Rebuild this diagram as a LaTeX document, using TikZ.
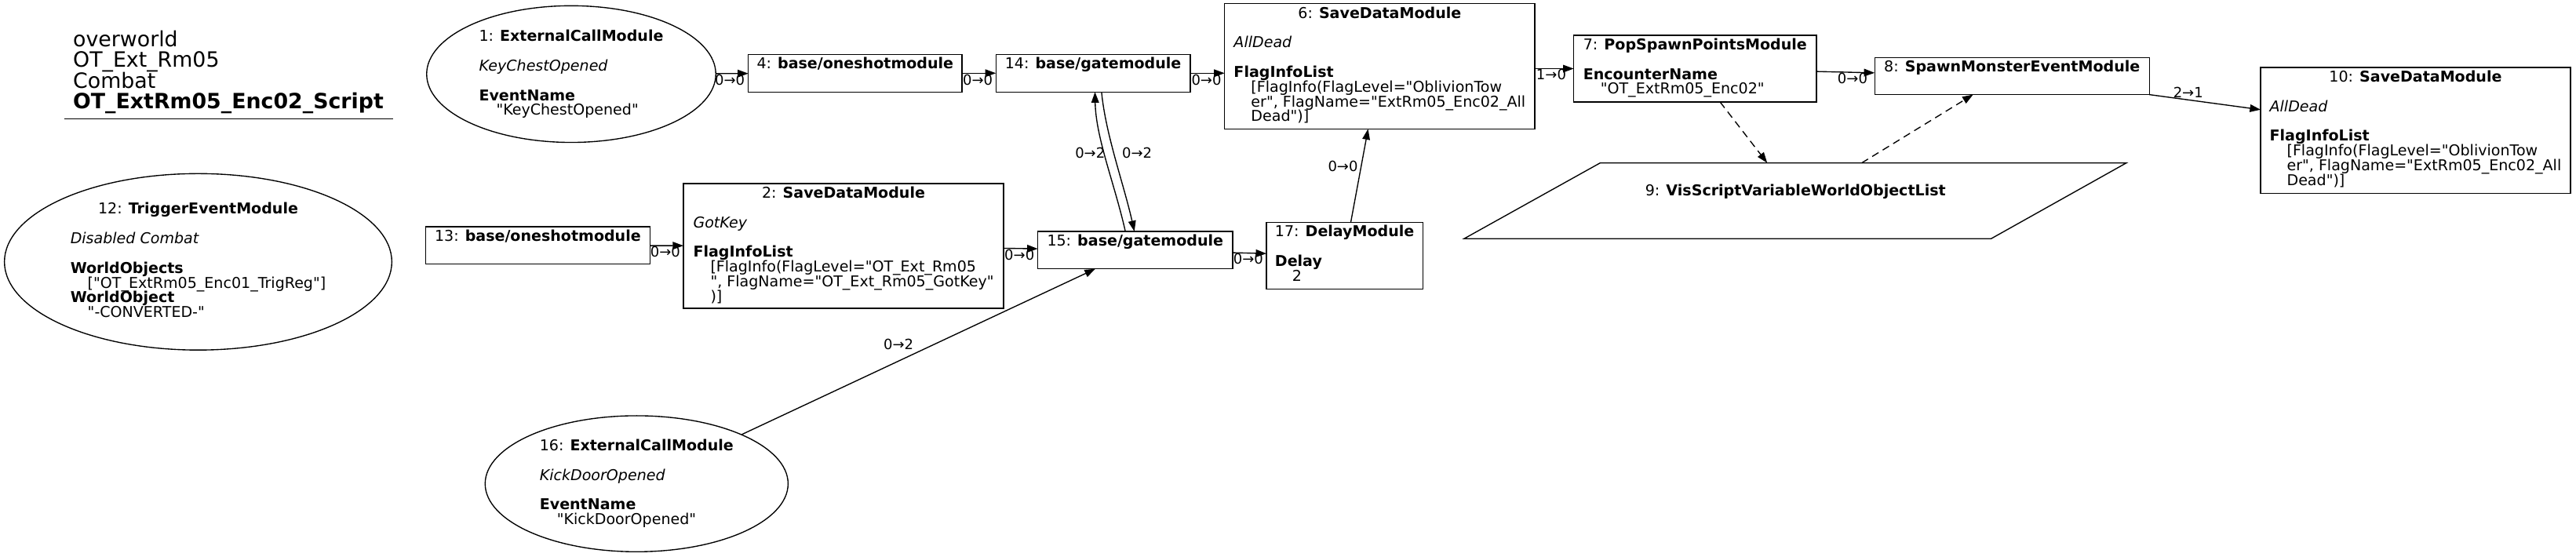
\documentclass[tikz,border=0pt]{standalone}
\usepackage{fontspec}
\setmainfont{DejaVu Sans}[Ligatures=TeXOff]
\usetikzlibrary{arrows.meta,calc,shapes.geometric}
\newcommand{\blk}[1]{\vtop{\baselineskip=9pt\lineskiplimit=-100pt\lineskip=0pt\halign{##\hfil\cr#1\crcr}}}
\newcommand{\ttl}[2]{\hfil #1: \textbf{#2}}
\newcommand{\ind}{\kern10.5pt\relax}
\tikzset{
 box/.style={draw, line width=0.65pt, inner sep=0pt, outer sep=0pt, rectangle},
 ell/.style={draw, line width=0.65pt, inner sep=0pt, outer sep=0pt, ellipse},
 txt/.style={inner sep=0pt, outer sep=0pt, anchor=base},
 lbl/.style={inner sep=0pt, outer sep=0pt, font=\fontsize{8.6}{9}\selectfont},
 conn/.style={draw, line width=0.65pt, -{Triangle[length=6.5pt,width=4.6pt]}},
 dconn/.style={conn, dash pattern=on 4.5pt off 3pt},
}
\begin{document}
\begin{tikzpicture}[x=1pt, y=-1pt, font=\fontsize{9.1}{9}\selectfont]
\useasboundingbox (0,0) rectangle (1568,339);
% title
\node[inner sep=0pt, anchor=base west, font=\fontsize{12.8}{12.6}\selectfont] (title) at (44.3,28.3)
 {\vtop{\baselineskip=12.6pt\lineskiplimit=-100pt\lineskip=0pt\hbox{overworld}\hbox{OT\_Ext\_Rm05}\hbox{Combat}\hbox{\textbf{OT\_ExtRm05\_Enc02\_Script}}}};
\draw[line width=0.65pt] (39,72.4) -- (239.3,72.4);
% shapes
\node[ell, minimum width=176pt, minimum height=83.2pt] (n1) at (347.7,45.1) {};
\node[ell, minimum width=235.8pt, minimum height=107.4pt] (n12) at (120.6,159.4) {};
\node[ell, minimum width=184.4pt, minimum height=82.8pt] (n16) at (387.5,294.5) {};
\node[box, minimum width=130pt, minimum height=22.9pt] (n4) at (520.5,44.55) {};
\node[box, minimum width=118.3pt, minimum height=22.9pt] (n14) at (665.35,44.55) {};
\node[box, minimum width=188.8pt, minimum height=76.3pt] (n6) at (839.8,40.35) {};
\node[box, minimum width=147.8pt, minimum height=40.6pt] (n7) at (1031.8,41.8) {};
\node[box, minimum width=167.2pt, minimum height=22.6pt] (n8) at (1224.7,46.3) {};
\node[box, minimum width=188.6pt, minimum height=76.7pt] (n10) at (1470.3,79.45) {};
\node[box, minimum width=136.5pt, minimum height=22.8pt] (n13) at (327.35,149.4) {};
\node[box, minimum width=194.9pt, minimum height=75.9pt] (n2) at (513.45,149.75) {};
\node[box, minimum width=118.6pt, minimum height=22.8pt] (n15) at (691,152.3) {};
\node[box, minimum width=95.1pt, minimum height=40.6pt] (n17) at (818.45,155.6) {};
\draw[line width=0.65pt] (974,99.2) -- (1294.3,99.2) -- (1212,145.3) -- (891.2,145.3) -- cycle;
\coordinate (n9) at (1092.9,122.25);
\coordinate (n9a) at (1075.7,99.2);
\coordinate (n9b) at (1133.2,99.2);
% texts
\node[txt] (t1) at (347.7,25.2) {\blk{\ttl{1}{ExternalCallModule}\cr\cr \textit{KeyChestOpened}\cr\cr \textbf{EventName}\cr \ind"KeyChestOpened"}};
\node[txt] (t12) at (120.6,130.3) {\blk{\ttl{12}{TriggerEventModule}\cr\cr \textit{Disabled Combat}\cr\cr \textbf{WorldObjects}\cr \ind["OT\_ExtRm05\_Enc01\_TrigReg"]\cr \textbf{WorldObject}\cr \ind"-CONVERTED-"}};
\node[txt] (t16) at (387.5,274.3) {\blk{\ttl{16}{ExternalCallModule}\cr\cr \textit{KickDoorOpened}\cr\cr \textbf{EventName}\cr \ind"KickDoorOpened"}};
\node[txt] (t4) at (520.5,41.9) {\blk{\ttl{4}{base/oneshotmodule}}};
\node[txt] (t14) at (665.35,41.9) {\blk{\ttl{14}{base/gatemodule}}};
\node[txt] (t6) at (839.8,11.0) {\blk{\ttl{6}{SaveDataModule}\cr\cr \textit{AllDead}\cr\cr \textbf{FlagInfoList}\cr \ind[FlagInfo(FlagLevel="OblivionTow\cr \ind er", FlagName="ExtRm05\_Enc02\_All\cr \ind Dead")]}};
\node[txt] (t7) at (1031.8,30.3) {\blk{\ttl{7}{PopSpawnPointsModule}\cr\cr \textbf{EncounterName}\cr \ind"OT\_ExtRm05\_Enc02"}};
\node[txt] (t8) at (1224.7,43.8) {\blk{\ttl{8}{SpawnMonsterEventModule}}};
\node[txt] (t10) at (1470.3,49.9) {\blk{\ttl{10}{SaveDataModule}\cr\cr \textit{AllDead}\cr\cr \textbf{FlagInfoList}\cr \ind[FlagInfo(FlagLevel="OblivionTow\cr \ind er", FlagName="ExtRm05\_Enc02\_All\cr \ind Dead")]}};
\node[txt] (t13) at (327.35,146.8) {\blk{\ttl{13}{base/oneshotmodule}}};
\node[txt] (t2) at (513.45,120.6) {\blk{\ttl{2}{SaveDataModule}\cr\cr \textit{GotKey}\cr\cr \textbf{FlagInfoList}\cr \ind[FlagInfo(FlagLevel="OT\_Ext\_Rm05\cr \ind", FlagName="OT\_Ext\_Rm05\_GotKey"\cr \ind)]}};
\node[txt] (t15) at (691,149.7) {\blk{\ttl{15}{base/gatemodule}}};
\node[txt] (t17) at (818.45,144.1) {\blk{\ttl{17}{DelayModule}\cr\cr \textbf{Delay}\cr \ind 2}};
\node[txt] (t9) at (1092.9,119.4) {9: \textbf{VisScriptVariableWorldObjectList}};
% connectors
\draw[conn] (n1) -- (n4);
\draw[conn] (n4) -- (n14);
\draw[conn] (n14.east) -- (n14.east -| n6.west);
\draw[conn] (n6.east |- n7.west) -- (n7.west);
\draw[conn] (n7) -- (n8);
\draw[conn] (n8) -- (n10);
\draw[conn] (n13) -- (n2);
\draw[conn] (n2) -- (n15);
\draw[conn] (n15) -- (n17);
\draw[conn] (n17) -- (n6);
\draw[conn] (n16) -- (n15);
\draw[conn] ($(n15.north)+(-6,0)$) .. controls (678.5,112) and (667,84) .. ($(n14.south)+(1.15,0)$);
\draw[conn] ($(n14.south)+(5.15,0)$) .. controls (673,82) and (684,112) .. ($(n15.north)+(-0.5,0)$);
\draw[dconn] ($(n7.south)+(15.2,0)$) -- (n9a);
\draw[dconn] (n9b) -- ($(n8.south)+(-23.7,0)$);
% connector labels
\node[lbl, anchor=base east] (l1) at (453.3,51.9) {0→0};
\node[lbl, anchor=base east] (l2) at (604.2,51.6) {0→0};
\node[lbl, anchor=base east] (l3) at (743.4,51.6) {0→0};
\node[lbl, anchor=base east] (l4) at (953.3,48.3) {1→0};
\node[lbl, anchor=base east] (l5) at (1136.7,50.8) {0→0};
\node[lbl, anchor=base east] (l6) at (1341,59.5) {2→1};
\node[lbl, anchor=base east] (l7) at (414,156.6) {0→0};
\node[lbl, anchor=base east] (l8) at (629.6,158.4) {0→0};
\node[lbl, anchor=base east] (l9) at (768.9,160.8) {0→0};
\node[lbl, anchor=base east] (l10) at (826.5,104.3) {0→0};
\node[lbl, anchor=base east] (l11) at (672.6,96.3) {0→2};
\node[lbl, anchor=base west] (l12) at (683,96.3) {0→2};
\node[lbl, anchor=base east] (l13) at (556,213) {0→2};
\end{tikzpicture}
\end{document}
